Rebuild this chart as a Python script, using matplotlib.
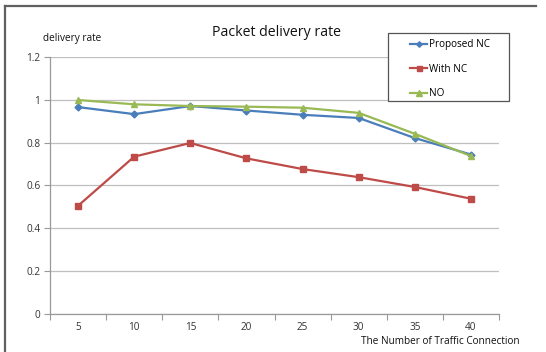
import matplotlib
matplotlib.use("Agg")
import matplotlib.pyplot as plt
from matplotlib.lines import Line2D
from matplotlib.patches import Rectangle

categories = ["5", "10", "15", "20", "25", "30", "35", "40"]
proposed_nc = [0.967, 0.934, 0.972, 0.951, 0.931, 0.916, 0.822, 0.745]
with_nc = [0.505, 0.735, 0.799, 0.727, 0.677, 0.639, 0.593, 0.538]
no_nc = [1.0, 0.980, 0.972, 0.969, 0.964, 0.940, 0.842, 0.738]
y_ticks = [0, 0.2, 0.4, 0.6, 0.8, 1.0, 1.2]
y_tick_labels = ["0", "0.2", "0.4", "0.6", "0.8", "1", "1.2"]

plt.rcParams['font.family'] = ['Open Sans', 'DejaVu Sans']

W, H = 546, 352
fig = plt.figure(figsize=(W / 100, H / 100), dpi=100)
ax = fig.add_axes([50 / W, 1 - 313.7 / H, (499 - 50) / W, (313.7 - 57.3) / H])

x = list(range(len(categories)))
ax.plot(x, proposed_nc, color="#4A7EBB", lw=1.6, marker="D", ms=3.5, label="Proposed NC", zorder=3)
ax.plot(x, with_nc, color="#BE4B48", lw=1.6, marker="s", ms=4.5, label="With NC", zorder=3)
ax.plot(x, no_nc, color="#98B954", lw=1.6, marker="^", ms=5, label="NO", zorder=3)

ax.set_xlim(-0.5, len(categories) - 0.5)
ax.set_ylim(0, 1.2)
ax.set_yticks(y_ticks)
ax.set_yticklabels(y_tick_labels)
ax.set_xticks(x)
ax.set_xticklabels(categories)
ax.set_xticks([i - 0.5 for i in range(len(categories) + 1)], minor=True)
ax.tick_params(axis="x", which="major", length=0, pad=6, labelsize=7.2, labelcolor="#333333")
ax.tick_params(axis="x", which="minor", length=4, color="#999999", width=0.8)
ax.tick_params(axis="y", length=4, color="#999999", width=0.8, labelsize=7.2, labelcolor="#333333", pad=3)

ax.grid(axis="y", color="#BFBFBF", lw=0.9)
ax.set_axisbelow(True)
for s in ["top", "right"]:
    ax.spines[s].set_visible(False)
for s in ["left", "bottom"]:
    ax.spines[s].set_color("#999999")
    ax.spines[s].set_linewidth(0.9)

fig.text(277 / W, 1 - 33 / H, "Packet delivery rate", ha="center", va="center", fontsize=10.2, color="#111111")
fig.text(43 / W, 1 - 38 / H, "delivery rate", ha="left", va="center", fontsize=7.2, color="#111111")
fig.text(520 / W, 1 - 341 / H, "The Number of Traffic Connection", ha="right", va="center", fontsize=7.2, color="#111111")

# legend frame
fig.add_artist(Rectangle((388 / W, 1 - 100.7 / H), (509 - 388) / W, (100.7 - 33) / H,
                         transform=fig.transFigure, facecolor="white", edgecolor="#555555", lw=0.9, zorder=4))
handles, labels = ax.get_legend_handles_labels()
leg = fig.legend(handles, labels, loc="upper left", bbox_to_anchor=(410 / W, 1 - 39 / H),
                 bbox_transform=fig.transFigure, frameon=False,
                 fontsize=7.2, handlelength=1.7, handletextpad=0.2, labelspacing=1.35, borderpad=0,
                 borderaxespad=0, markerscale=0.8)
leg.set_zorder(5)

fig.add_artist(Line2D([4.5 / W, 4.5 / W], [0, 1 - 5.5 / H], transform=fig.transFigure, color="#606060", lw=1.6))
fig.add_artist(Line2D([4.5 / W, 536 / W], [1 - 5.5 / H, 1 - 5.5 / H], transform=fig.transFigure, color="#606060", lw=1.6))

fig.savefig("out.png", dpi=100)
